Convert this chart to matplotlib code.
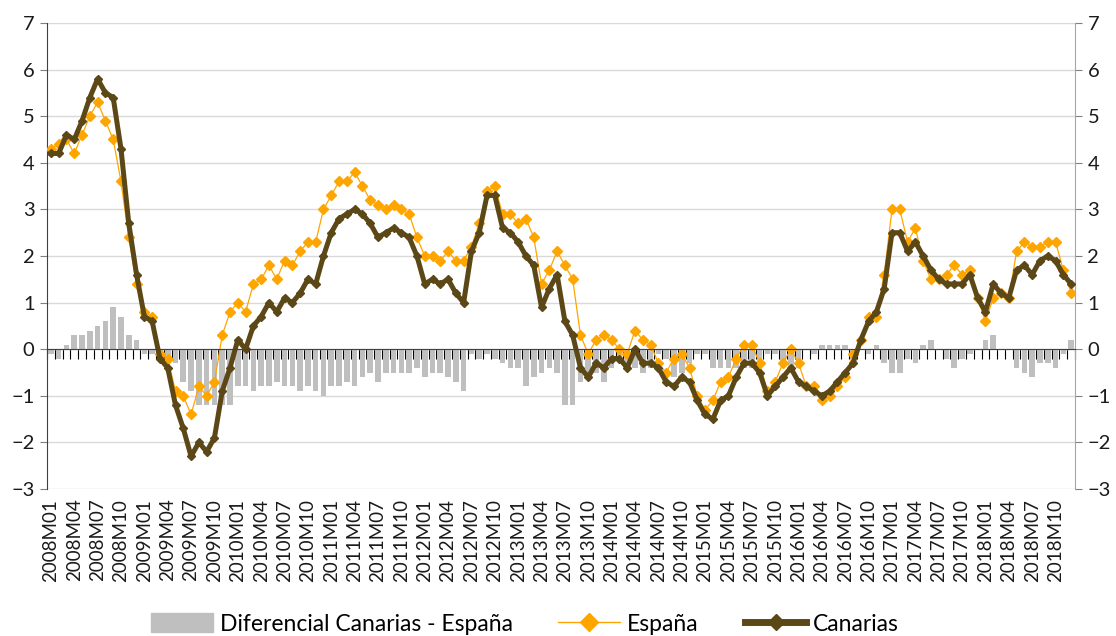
import numpy as np
import matplotlib
matplotlib.use("Agg")
import matplotlib.pyplot as plt
from matplotlib.lines import Line2D
from matplotlib.patches import Patch

plt.rcParams['font.family'] = ['Lato', 'DejaVu Sans']

# ---- data (monthly, 2008M01 .. 2018M12) ----
canarias = [
    4.2, 4.2, 4.6, 4.5, 4.9, 5.4, 5.8, 5.5, 5.4, 4.3, 2.7, 1.6,      # 2008
    0.7, 0.6, -0.2, -0.4, -1.2, -1.7, -2.3, -2.0, -2.2, -1.9, -0.9, -0.4,  # 2009
    0.2, 0.0, 0.5, 0.7, 1.0, 0.8, 1.1, 1.0, 1.2, 1.5, 1.4, 2.0,      # 2010
    2.5, 2.8, 2.9, 3.0, 2.9, 2.7, 2.4, 2.5, 2.6, 2.5, 2.4, 2.0,      # 2011
    1.4, 1.5, 1.4, 1.5, 1.2, 1.0, 2.1, 2.5, 3.3, 3.3, 2.6, 2.5,      # 2012
    2.3, 2.0, 1.8, 0.9, 1.3, 1.6, 0.6, 0.3, -0.4, -0.6, -0.3, -0.4,  # 2013
    -0.2, -0.2, -0.4, 0.0, -0.3, -0.3, -0.4, -0.7, -0.8, -0.6, -0.7, -1.1,  # 2014
    -1.4, -1.5, -1.1, -1.0, -0.6, -0.3, -0.3, -0.5, -1.0, -0.8, -0.6, -0.4,  # 2015
    -0.7, -0.8, -0.9, -1.0, -0.9, -0.7, -0.5, -0.3, 0.2, 0.6, 0.8, 1.3,    # 2016
    2.5, 2.5, 2.1, 2.3, 2.0, 1.7, 1.5, 1.4, 1.4, 1.4, 1.6, 1.1,      # 2017
    0.8, 1.4, 1.2, 1.1, 1.7, 1.8, 1.6, 1.9, 2.0, 1.9, 1.6, 1.4,      # 2018
]
espana = [
    4.3, 4.4, 4.5, 4.2, 4.6, 5.0, 5.3, 4.9, 4.5, 3.6, 2.4, 1.4,      # 2008
    0.8, 0.7, -0.1, -0.2, -0.9, -1.0, -1.4, -0.8, -1.0, -0.7, 0.3, 0.8,    # 2009
    1.0, 0.8, 1.4, 1.5, 1.8, 1.5, 1.9, 1.8, 2.1, 2.3, 2.3, 3.0,      # 2010
    3.3, 3.6, 3.6, 3.8, 3.5, 3.2, 3.1, 3.0, 3.1, 3.0, 2.9, 2.4,      # 2011
    2.0, 2.0, 1.9, 2.1, 1.9, 1.9, 2.2, 2.7, 3.4, 3.5, 2.9, 2.9,      # 2012
    2.7, 2.8, 2.4, 1.4, 1.7, 2.1, 1.8, 1.5, 0.3, -0.1, 0.2, 0.3,     # 2013
    0.2, 0.0, -0.1, 0.4, 0.2, 0.1, -0.3, -0.5, -0.2, -0.1, -0.4, -1.0,   # 2014
    -1.3, -1.1, -0.7, -0.6, -0.2, 0.1, 0.1, -0.3, -0.9, -0.7, -0.3, 0.0,  # 2015
    -0.3, -0.8, -0.8, -1.1, -1.0, -0.8, -0.6, -0.1, 0.2, 0.7, 0.7, 1.6,   # 2016
    3.0, 3.0, 2.3, 2.6, 1.9, 1.5, 1.5, 1.6, 1.8, 1.6, 1.7, 1.1,      # 2017
    0.6, 1.1, 1.2, 1.1, 2.1, 2.3, 2.2, 2.2, 2.3, 2.3, 1.7, 1.2,      # 2018
]
diferencial = [
    -0.1, -0.2, 0.1, 0.3, 0.3, 0.4, 0.5, 0.6, 0.9, 0.7, 0.3, 0.2,    # 2008
    -0.1, -0.1, -0.1, -0.2, -0.3, -0.7, -0.9, -1.2, -1.2, -1.2, -1.2, -1.2,  # 2009
    -0.8, -0.8, -0.9, -0.8, -0.8, -0.7, -0.8, -0.8, -0.9, -0.8, -0.9, -1.0,  # 2010
    -0.8, -0.8, -0.7, -0.8, -0.6, -0.5, -0.7, -0.5, -0.5, -0.5, -0.5, -0.4,  # 2011
    -0.6, -0.5, -0.5, -0.6, -0.7, -0.9, -0.1, -0.2, -0.1, -0.2, -0.3, -0.4,  # 2012
    -0.4, -0.8, -0.6, -0.5, -0.4, -0.5, -1.2, -1.2, -0.7, -0.5, -0.5, -0.7,  # 2013
    -0.4, -0.2, -0.3, -0.4, -0.5, -0.4, -0.1, -0.2, -0.6, -0.5, -0.3, -0.1,  # 2014
    -0.1, -0.4, -0.4, -0.4, -0.4, -0.4, -0.4, -0.2, -0.1, -0.1, -0.3, -0.4,  # 2015
    -0.4, 0.0, -0.1, 0.1, 0.1, 0.1, 0.1, -0.2, 0.0, -0.1, 0.1, -0.3,     # 2016
    -0.5, -0.5, -0.2, -0.3, 0.1, 0.2, 0.0, -0.2, -0.4, -0.2, -0.1, 0.0,   # 2017
    0.2, 0.3, 0.0, 0.0, -0.4, -0.5, -0.6, -0.3, -0.3, -0.4, -0.1, 0.2,    # 2018
]
tick_labels = [
    "2008M01", "2008M04", "2008M07", "2008M10", "2009M01", "2009M04", "2009M07", "2009M10",
    "2010M01", "2010M04", "2010M07", "2010M10", "2011M01", "2011M04", "2011M07", "2011M10",
    "2012M01", "2012M04", "2012M07", "2012M10", "2013M01", "2013M04", "2013M07", "2013M10",
    "2014M01", "2014M04", "2014M07", "2014M10", "2015M01", "2015M04", "2015M07", "2015M10",
    "2016M01", "2016M04", "2016M07", "2016M10", "2017M01", "2017M04", "2017M07", "2017M10",
    "2018M01", "2018M04", "2018M07", "2018M10",
]
y_ticks = [-3, -2, -1, 0, 1, 2, 3, 4, 5, 6, 7]

# ---- style ----
c_bar = "#bfbfbf"
c_esp = "#ffa500"
c_can = "#5c4716"

W, H = 1116, 636
fig = plt.figure(figsize=(W / 100, H / 100), dpi=100)
ax = fig.add_axes([47 / W, 1 - 489 / H, (1075 - 47) / W, (489 - 23) / H])

x = np.arange(len(canarias))
ax.bar(x, diferencial, width=0.72, color=c_bar, zorder=2)
ax.plot(x, espana, color=c_esp, lw=0.9, marker="D", ms=5.5, zorder=3)
ax.plot(x, canarias, color=c_can, lw=3.6, marker="D", ms=4.5, zorder=4)

ax.set_xlim(-0.5, len(canarias) - 0.5)
ax.set_ylim(-3, 7)
ax.set_yticks(y_ticks)
ax.yaxis.grid(True, color="#d9d9d9", lw=1.0, zorder=0)
ax.set_axisbelow(True)

# category axis crossing at zero with ticks at every month boundary
ax.spines["bottom"].set_position(("data", 0))
ax.spines["bottom"].set_color("#404040")
ax.spines["bottom"].set_linewidth(0.8)
ax.spines["bottom"].set_zorder(5)
ax.set_xticks(np.arange(-0.5, len(canarias), 1.0))
ax.tick_params(axis="x", length=7, width=0.8, color="black", labelbottom=False, direction="out")
ax.spines["top"].set_visible(False)
ax.spines["left"].set_color("#404040")
ax.spines["right"].set_color("#a6a6a6")

ax.tick_params(axis="y", which="both", left=True, right=True, labelleft=True, labelright=True,
               length=5, color="#808080", labelsize=14.5, labelcolor="#1a1a1a", pad=4)

sec = ax.secondary_xaxis("bottom")
sec.set_xticks(np.arange(0, len(canarias), 3), labels=tick_labels, rotation=90)
sec.tick_params(length=0, pad=7, labelsize=13.5, labelcolor="#1a1a1a")
sec.spines["bottom"].set_visible(False)

handles = [
    Patch(color=c_bar),
    Line2D([], [], color=c_esp, lw=1, marker="D", ms=9),
    Line2D([], [], color=c_can, lw=5, marker="D", ms=8),
]
labels = ["Diferencial Canarias - España", "España", "Canarias"]
fig.legend(handles, labels, loc="center", bbox_to_anchor=(525 / W, 1 - 624 / H), ncol=3,
           frameon=False, fontsize=16.5, handlelength=2.7, handletextpad=0.3,
           columnspacing=2.0, handleheight=0.85)

fig.savefig("out.png", dpi=100)
